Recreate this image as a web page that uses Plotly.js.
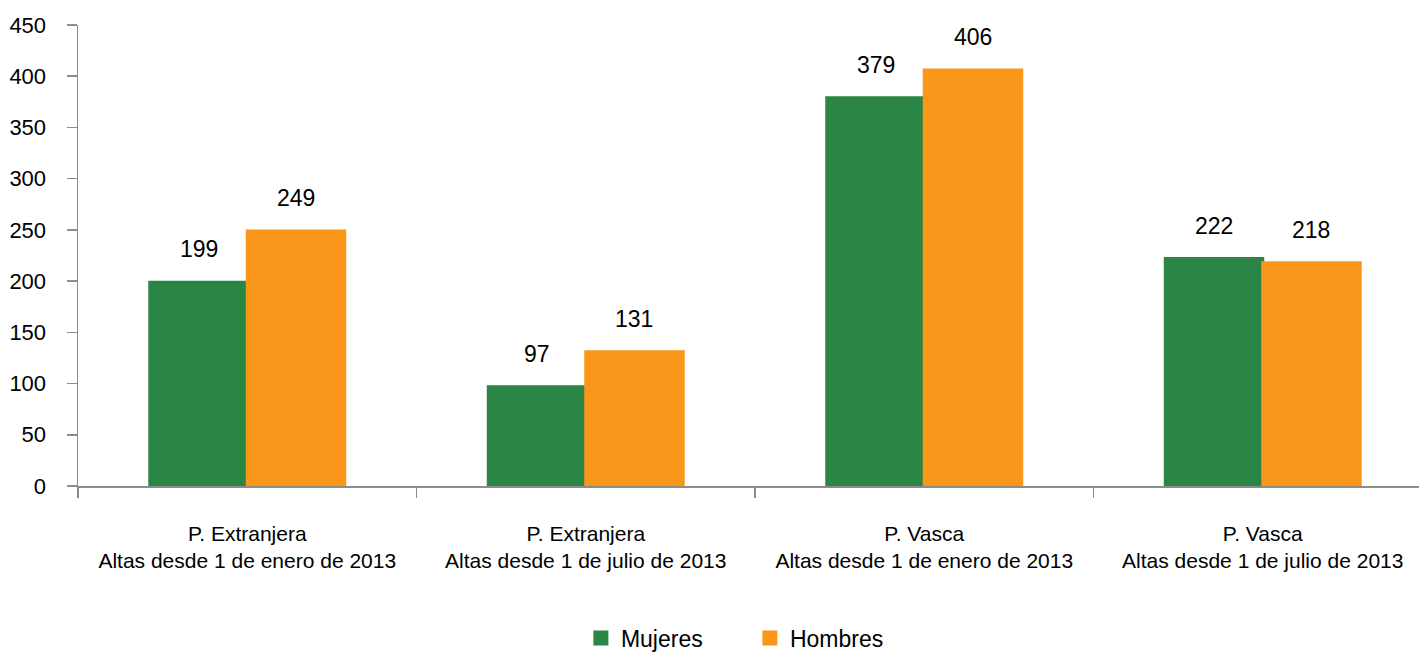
<!DOCTYPE html>
<html>
<head>
<meta charset="utf-8">
<script src="https://cdn.plot.ly/plotly-3.0.1.min.js"></script>
<style>html,body{margin:0;padding:0;background:#fff;}#chart{width:1419px;height:654px;}</style>
</head>
<body>
<div id="chart"></div>
<script>
const categories = [
  "P. Extranjera<br>Altas desde 1 de enero de 2013",
  "P. Extranjera<br>Altas desde 1 de julio de 2013",
  "P. Vasca<br>Altas desde 1 de enero de 2013",
  "P. Vasca<br>Altas desde 1 de julio de 2013"
];
const mujeres = [199, 97, 379, 222];
const hombres = [249, 131, 406, 218];
const seriesNames = ["Mujeres", "Hombres"];
const yTicks = [0, 50, 100, 150, 200, 250, 300, 350, 400, 450];

const FONT = '"Liberation Sans", Arial, sans-serif';
const GREEN = '#2B8545';
const ORANGE = '#FA9619';
const AXIS = '#8C8C8C';

const bargap = 0.424;
const half = (1 - bargap) / 4; // centre offset of each bar in a group

const traces = [
  {type: 'bar', name: seriesNames[0], x: categories, y: mujeres, marker: {color: GREEN, line: {color: GREEN, width: 3}}, hoverinfo: 'y'},
  {type: 'bar', name: seriesNames[1], x: categories, y: hombres, marker: {color: ORANGE, line: {color: ORANGE, width: 3}}, hoverinfo: 'y'}
];

const annotations = [];
[mujeres, hombres].forEach((arr, s) => {
  arr.forEach((v, i) => {
    annotations.push({
      xref: 'x', yref: 'y', x: i + (s === 0 ? -half : half), y: v,
      text: String(v), showarrow: false, yanchor: 'middle', yshift: 33,
      font: {family: FONT, size: 23, color: '#000'}
    });
  });
});

const layout = {
  width: 1419, height: 654,
  margin: {l: 78, r: 0, t: 25, b: 167.5},
  paper_bgcolor: '#fff', plot_bgcolor: '#fff',
  barmode: 'group', bargap: bargap, bargroupgap: 0,
  font: {family: FONT, size: 22, color: '#000'},
  showlegend: true,
  legend: {orientation: 'h', xref: 'paper', x: 0.375, xanchor: 'left',
           yref: 'container', y: 16 / 654, yanchor: 'middle',
           font: {family: FONT, size: 23, color: '#000'}, entrywidth: 124, entrywidthmode: 'pixels'},
  xaxis: {
    type: 'category', range: [-0.5, -0.5 + 1341 / 338.5], autorange: false,
    showline: true, linecolor: AXIS, linewidth: 1.5,
    ticks: 'outside', tickson: 'boundaries', ticklen: 10, tickcolor: AXIS, tickwidth: 1.5,
    showgrid: false, zeroline: false, ticklabelstandoff: 28, tickangle: 0,
    tickfont: {family: FONT, size: 21, color: '#000'}, fixedrange: true
  },
  yaxis: {
    range: [0, 450], autorange: false, tickvals: yTicks, ticktext: yTicks.map(String),
    showline: true, linecolor: AXIS, linewidth: 1.5,
    ticks: 'outside', ticklen: 10, tickcolor: AXIS, tickwidth: 1.5,
    showgrid: false, zeroline: false, ticklabelstandoff: 16,
    tickfont: {family: FONT, size: 22, color: '#000'}, fixedrange: true
  },
  annotations: annotations
};

Plotly.newPlot('chart', traces, layout, {displayModeBar: false, staticPlot: true});
</script>
</body>
</html>
